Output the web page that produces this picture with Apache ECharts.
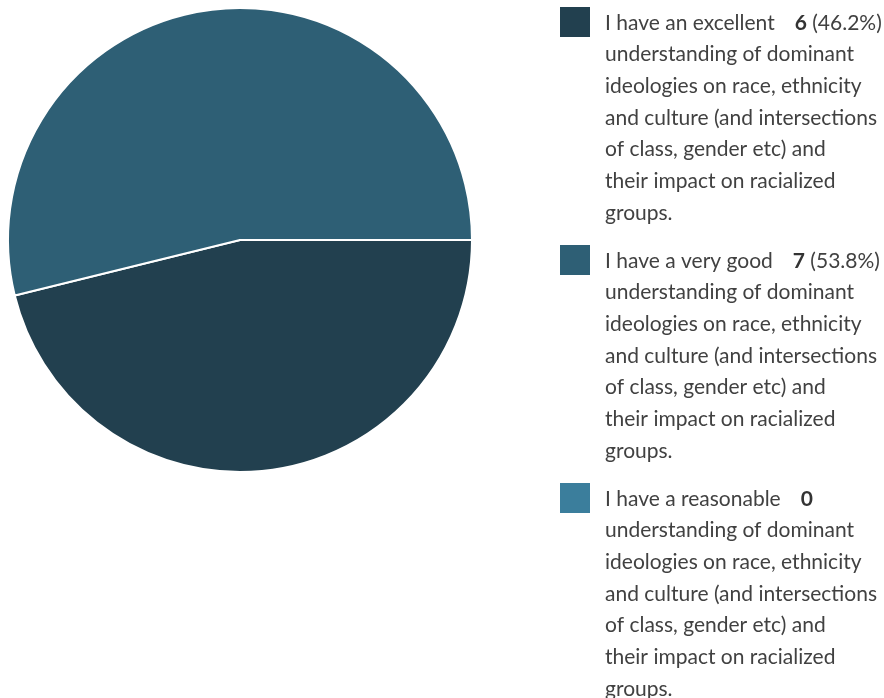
<!DOCTYPE html>
<html>
<head>
<meta charset="utf-8">
<script src="https://cdn.jsdelivr.net/npm/echarts@6/dist/echarts.min.js"></script>
<style>
  html, body { margin: 0; padding: 0; background: #fff; }
  #chart { width: 884px; height: 698px; }
</style>
</head>
<body>
<div id="chart"></div>
<script>
// answer heads + shared wrapped tail
const heads = ['I have an excellent', 'I have a very good', 'I have a reasonable'];
const tailLines = [
  'understanding of dominant',
  'ideologies on race, ethnicity',
  'and culture (and intersections',
  'of class, gender etc) and',
  'their impact on racialized',
  'groups.'
];
const categories = heads.map(h => h + ' ' + tailLines.join(' '));
const values = [6, 7, 0];
const colors = ['#22404f', '#2e5f75', '#3b7e9c'];

const total = values.reduce((a, b) => a + b, 0);
const LH = 31.7;

let myChart = echarts.init(document.getElementById('chart'));
myChart.setOption({
  animation: false,
  legend: {
    orient: 'vertical',
    left: 560,
    top: 7,
    padding: 0,
    height: 760, // legend runs past the bottom edge, keep it in one column
    itemWidth: 40,
    itemHeight: 222,
    itemGap: 16,
    selectedMode: false,
    // square at the top, empty space below so the text starts level with it
    icon: 'path://M0,0h30v30h-30zM40,222',
    itemStyle: { borderWidth: 0 },
    formatter: function (name) {
      const i = categories.indexOf(name);
      const v = values[i];
      let first = heads[i] + '{v|' + v + '}';
      if (v > 0) first += ' (' + (v / total * 100).toFixed(1) + '%)';
      return first + '\n' + tailLines.join('\n');
    },
    textStyle: {
      fontFamily: 'Lato',
      fontSize: 21,
      color: '#414141',
      lineHeight: LH,
      rich: {
        v: {
          fontFamily: 'Lato',
          fontSize: 21,
          fontWeight: 'bold',
          color: '#333',
          lineHeight: LH,
          padding: [0, 0, 0, 20]
        }
      }
    },
    data: categories
  },
  series: [
    {
      type: 'pie',
      center: [240, 240],
      radius: 232,
      startAngle: 0,
      clockwise: true,
      label: { show: false },
      labelLine: { show: false },
      emphasis: { disabled: true },
      itemStyle: { borderColor: '#fff', borderWidth: 2 },
      data: categories.map((c, i) => ({
        name: c,
        value: values[i],
        itemStyle: { color: colors[i] }
      }))
    }
  ]
});
</script>
</body>
</html>
